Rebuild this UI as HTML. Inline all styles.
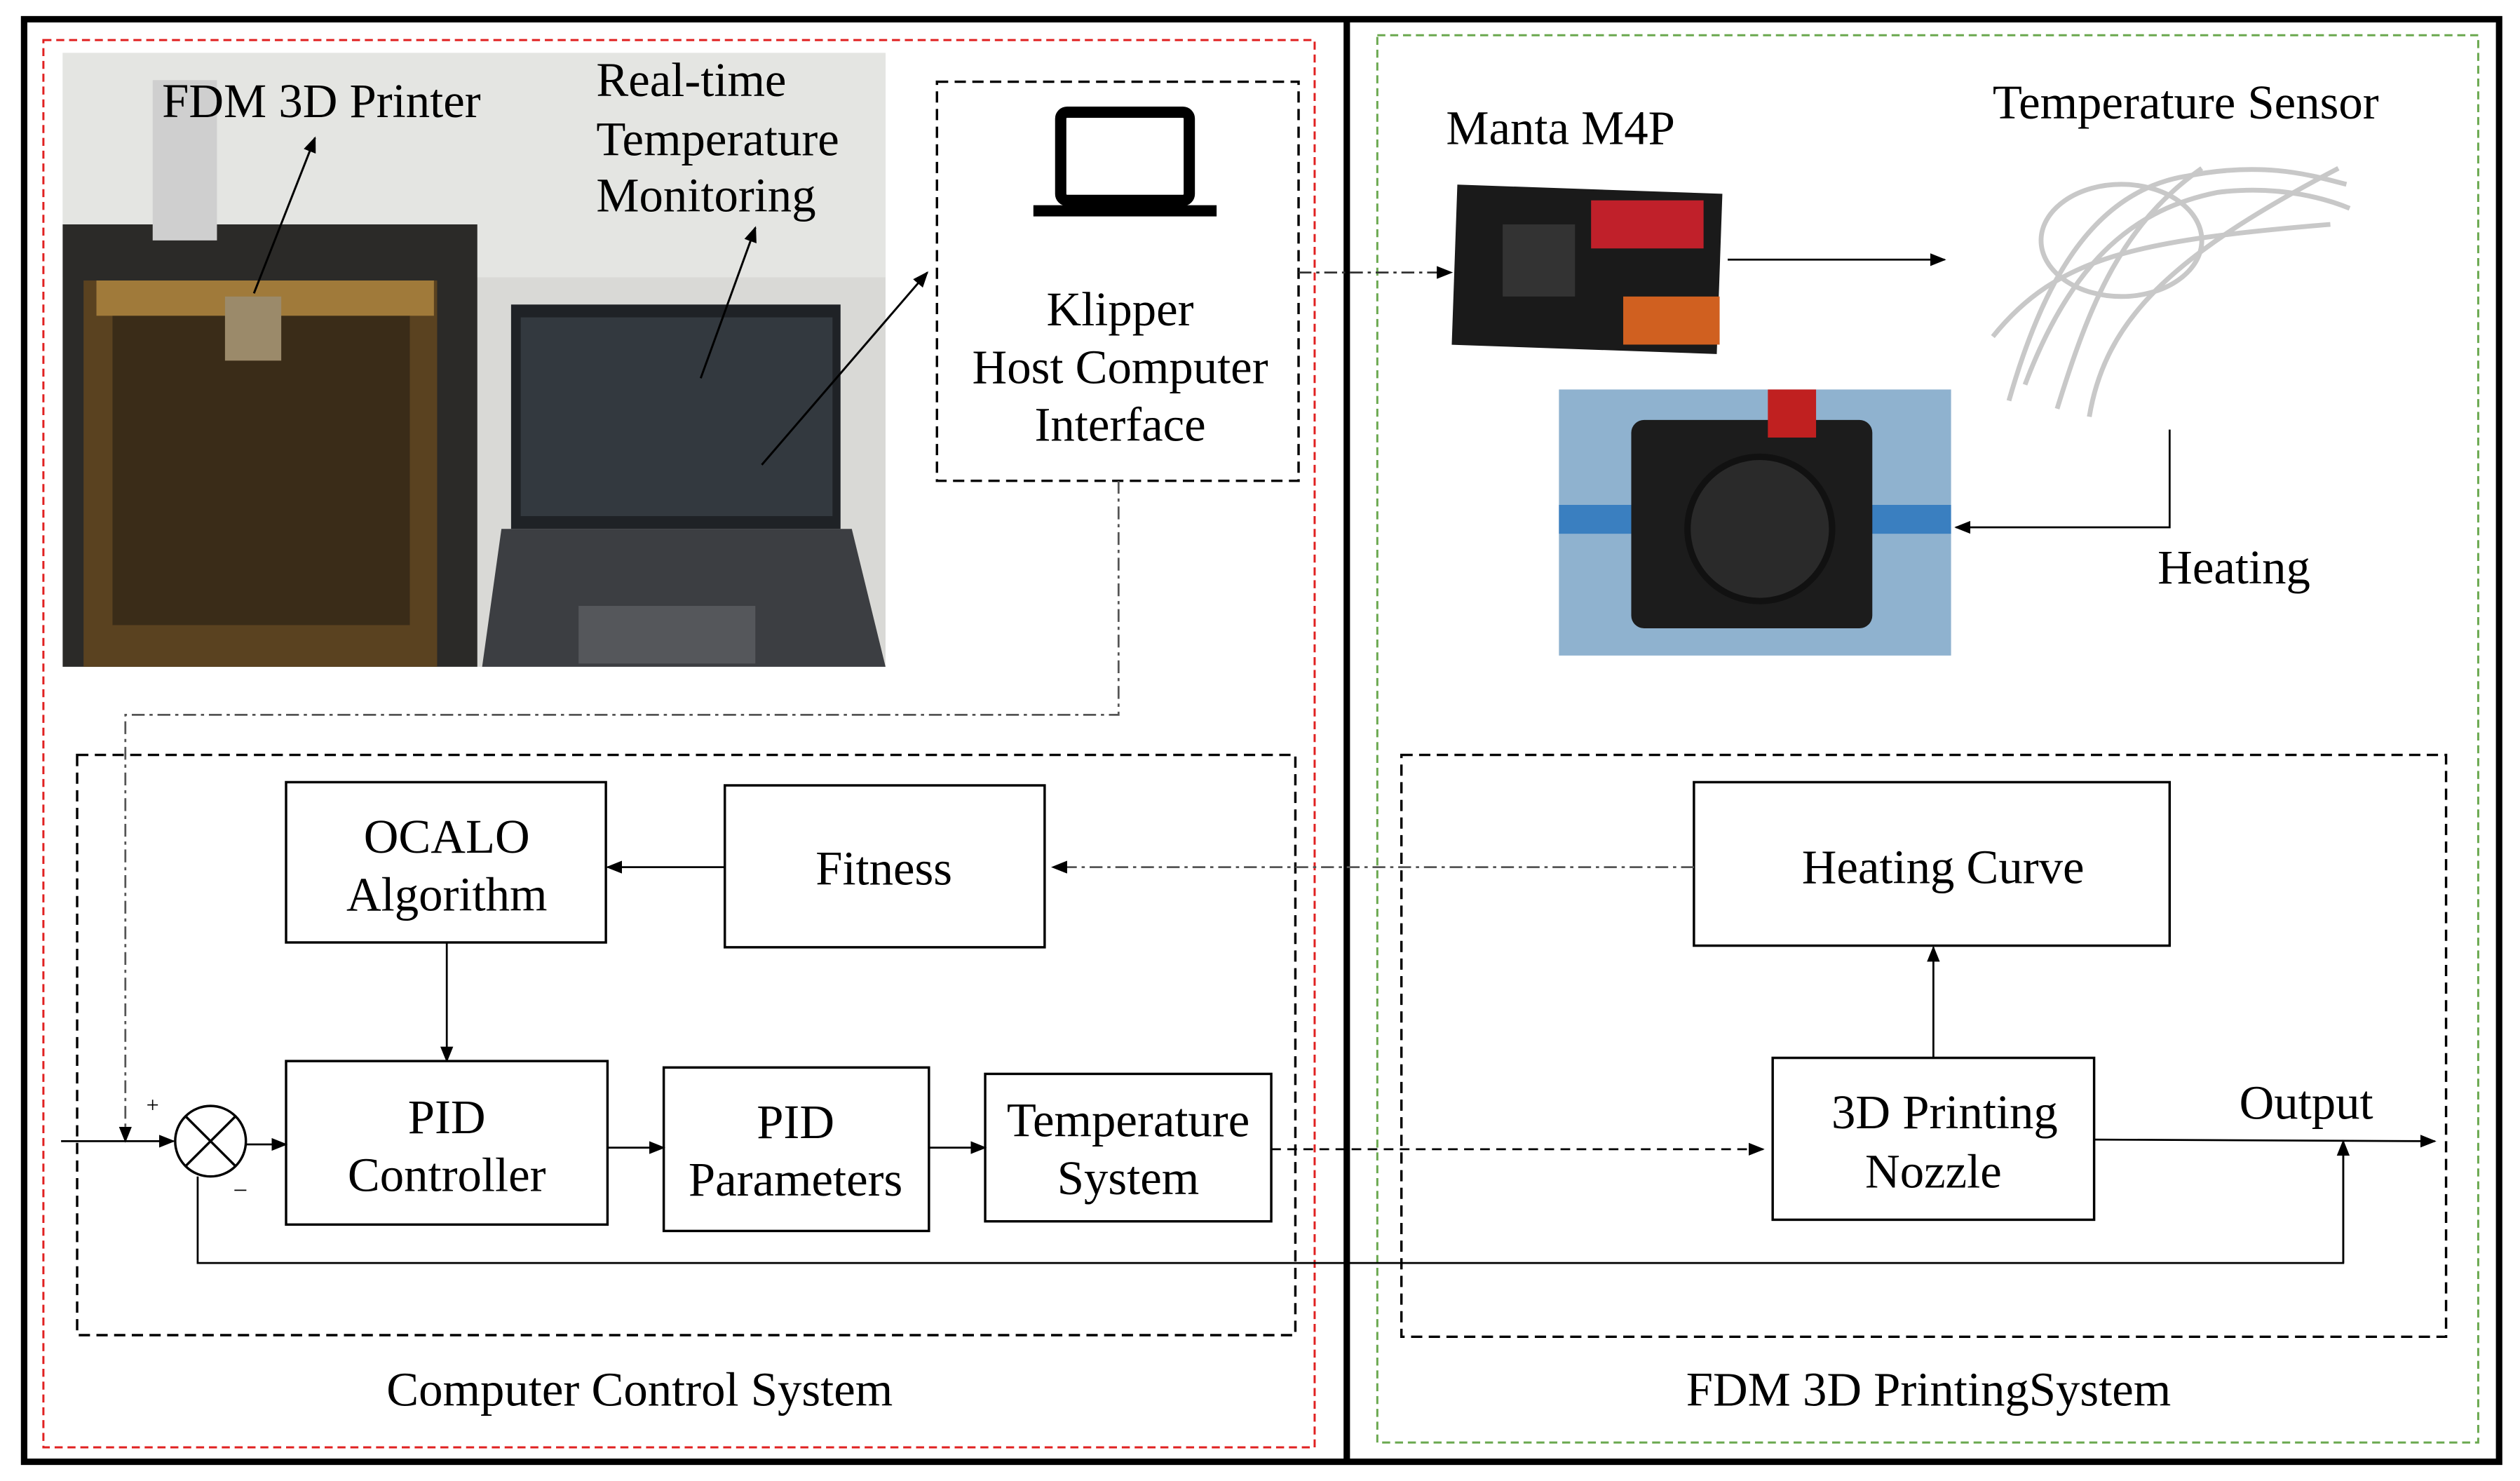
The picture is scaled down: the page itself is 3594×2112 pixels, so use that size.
<!DOCTYPE html>
<html><head><meta charset="utf-8"><style>
html,body{margin:0;padding:0;background:#fff;}
svg{display:block;}
text{font-family:"Liberation Serif",serif;fill:#000;}
</style></head><body>
<svg width="3594" height="2112" viewBox="0 0 1568 924" preserveAspectRatio="none" xmlns="http://www.w3.org/2000/svg">
<defs>
<marker id="a" markerWidth="10" markerHeight="8" refX="9" refY="4" orient="auto" markerUnits="userSpaceOnUse"><path d="M0,0 L10,4 L0,8 Z" fill="#000"/></marker>
</defs>
<rect x="0" y="0" width="1568" height="924" fill="#fff"/>
<rect x="15" y="12" width="1540" height="900" fill="none" stroke="#000" stroke-width="4"/>
<line x1="838" y1="12" x2="838" y2="912" stroke="#000" stroke-width="4"/>
<rect x="27" y="25" width="791" height="878" fill="none" stroke="#e02020" stroke-width="1.3" stroke-dasharray="5,3"/>
<rect x="857" y="22" width="685" height="878" fill="none" stroke="#6aa84f" stroke-width="1.3" stroke-dasharray="5,3"/>

<rect x="39" y="33" width="512" height="383" fill="#d9d9d6"/>
<rect x="39" y="33" width="512" height="140" fill="#e4e5e2"/>
<rect x="39" y="140" width="258" height="276" fill="#2b2a28"/>
<rect x="52" y="175" width="220" height="241" fill="#5a4220"/>
<rect x="70" y="190" width="185" height="200" fill="#3a2c18"/>
<rect x="60" y="175" width="210" height="22" fill="#a07a3a"/>
<rect x="140" y="185" width="35" height="40" fill="#9b8a6a"/>
<rect x="95" y="50" width="40" height="100" fill="#cfcfcf"/>
<rect x="318" y="190" width="205" height="140" fill="#1f2226"/>
<rect x="324" y="198" width="194" height="124" fill="#33393f"/>
<polygon points="312,330 530,330 551,416 300,416" fill="#3c3e42"/>
<rect x="360" y="378" width="110" height="36" fill="#55575b"/>

<text x="200" y="73" font-size="30" text-anchor="middle">FDM 3D Printer</text>
<text x="371" y="60" font-size="30">Real-time</text>
<text x="371" y="97" font-size="30">Temperature</text>
<text x="371" y="132" font-size="30">Monitoring</text>
<line x1="158" y1="183" x2="196" y2="86" stroke="#000" stroke-width="1.3" marker-end="url(#a)"/>
<line x1="436" y1="236" x2="470" y2="142" stroke="#000" stroke-width="1.3" marker-end="url(#a)"/>
<line x1="474" y1="290" x2="577" y2="170" stroke="#000" stroke-width="1.3" marker-end="url(#a)"/>

<rect x="583" y="51" width="225" height="249" fill="#fff" stroke="#000" stroke-width="1.5" stroke-dasharray="7,4"/>
<rect x="660" y="70" width="80" height="55" rx="4" fill="none" stroke="#000" stroke-width="7"/>
<path d="M643,128 L757,128 L757,135 L643,135 Z" fill="#000"/>
<text x="697" y="203" font-size="30" text-anchor="middle">Klipper</text>
<text x="697" y="239" font-size="30" text-anchor="middle">Host Computer</text>
<text x="697" y="275" font-size="30" text-anchor="middle">Interface</text>

<polyline points="696,300 696,446 78,446 78,712" fill="none" stroke="#555" stroke-width="1.2" stroke-dasharray="8,3,2,3" marker-end="url(#a)"/>
<line x1="808" y1="170" x2="903" y2="170" stroke="#333" stroke-width="1.2" stroke-dasharray="8,3,2,3" marker-end="url(#a)"/>

<rect x="48" y="471" width="758" height="362" fill="none" stroke="#000" stroke-width="1.5" stroke-dasharray="7,4"/>
<rect x="178" y="488" width="199" height="100" fill="#fff" stroke="#000" stroke-width="1.5"/>
<text x="278" y="532" font-size="30" text-anchor="middle">OCALO</text>
<text x="278" y="568" font-size="30" text-anchor="middle">Algorithm</text>
<rect x="451" y="490" width="199" height="101" fill="#fff" stroke="#000" stroke-width="1.5"/>
<text x="550" y="552" font-size="30" text-anchor="middle">Fitness</text>
<line x1="451" y1="541" x2="378" y2="541" stroke="#000" stroke-width="1.2" marker-end="url(#a)"/>
<line x1="278" y1="588" x2="278" y2="662" stroke="#000" stroke-width="1.2" marker-end="url(#a)"/>
<rect x="178" y="662" width="200" height="102" fill="#fff" stroke="#000" stroke-width="1.5"/>
<text x="278" y="707" font-size="30" text-anchor="middle">PID</text>
<text x="278" y="743" font-size="30" text-anchor="middle">Controller</text>
<rect x="413" y="666" width="165" height="102" fill="#fff" stroke="#000" stroke-width="1.5"/>
<text x="495" y="710" font-size="30" text-anchor="middle">PID</text>
<text x="495" y="746" font-size="30" text-anchor="middle">Parameters</text>
<rect x="613" y="670" width="178" height="92" fill="#fff" stroke="#000" stroke-width="1.5"/>
<text x="702" y="709" font-size="30" text-anchor="middle">Temperature</text>
<text x="702" y="745" font-size="30" text-anchor="middle">System</text>
<circle cx="131" cy="712" r="22" fill="#fff" stroke="#000" stroke-width="1.5"/>
<line x1="115.5" y1="696.5" x2="146.5" y2="727.5" stroke="#000" stroke-width="1.5"/>
<line x1="146.5" y1="696.5" x2="115.5" y2="727.5" stroke="#000" stroke-width="1.5"/>
<line x1="38" y1="712" x2="108" y2="712" stroke="#000" stroke-width="1.2" marker-end="url(#a)"/>
<line x1="153" y1="714" x2="178" y2="714" stroke="#000" stroke-width="1.2" marker-end="url(#a)"/>
<line x1="378" y1="716" x2="413" y2="716" stroke="#000" stroke-width="1.2" marker-end="url(#a)"/>
<line x1="578" y1="716" x2="613" y2="716" stroke="#000" stroke-width="1.2" marker-end="url(#a)"/>
<text x="91" y="694" font-size="14">+</text>
<text x="145" y="748" font-size="16">−</text>
<line x1="791" y1="717" x2="1097" y2="717" stroke="#000" stroke-width="1.2" stroke-dasharray="6,4" marker-end="url(#a)"/>
<polyline points="1458,712 1458,788 123,788 123,734" fill="none" stroke="#000" stroke-width="1.2"/>
<line x1="1458" y1="788" x2="1458" y2="712" stroke="#000" stroke-width="1.2" marker-end="url(#a)"/>

<text x="398" y="877" font-size="30" text-anchor="middle">Computer Control System</text>

<rect x="905" y="118" width="165" height="100" fill="#1a1a1a" transform="rotate(2 987 168)"/>
<rect x="990" y="125" width="70" height="30" fill="#c0202a"/>
<rect x="1010" y="185" width="60" height="30" fill="#d06020"/>
<rect x="935" y="140" width="45" height="45" fill="#333"/>
<line x1="1075" y1="162" x2="1210" y2="162" stroke="#000" stroke-width="1.2" marker-end="url(#a)"/>
<g stroke="#c8c8c8" stroke-width="3" fill="none">
<path d="M1250,250 C1270,180 1300,120 1360,110 C1410,100 1440,110 1460,115"/>
<path d="M1260,240 C1290,160 1330,130 1380,120 C1420,115 1450,125 1462,130"/>
<path d="M1280,255 C1300,190 1320,140 1370,105"/>
<path d="M1240,210 C1280,160 1330,150 1450,140"/>
<path d="M1300,260 C1310,200 1350,160 1455,105"/>
<ellipse cx="1320" cy="150" rx="50" ry="35"/>
</g>
<rect x="970" y="243" width="244" height="166" fill="#8fb2cf"/>
<rect x="970" y="315" width="244" height="18" fill="#3a7fc0"/>
<rect x="1015" y="262" width="150" height="130" rx="8" fill="#1c1c1c"/>
<circle cx="1095" cy="330" r="45" fill="#2a2a2a" stroke="#111" stroke-width="4"/>
<rect x="1100" y="243" width="30" height="30" fill="#c02020"/>
<polyline points="1350,268 1350,329 1217,329" fill="none" stroke="#000" stroke-width="1.2" marker-end="url(#a)"/>
<text x="971" y="90" font-size="30" text-anchor="middle">Manta M4P</text>
<text x="1360" y="74" font-size="30" text-anchor="middle">Temperature Sensor</text>
<text x="1390" y="364" font-size="30" text-anchor="middle">Heating</text>

<rect x="872" y="471" width="650" height="363" fill="none" stroke="#000" stroke-width="1.5" stroke-dasharray="7,4"/>
<rect x="1054" y="488" width="296" height="102" fill="#fff" stroke="#000" stroke-width="1.5"/>
<text x="1209" y="551" font-size="30" text-anchor="middle">Heating Curve</text>
<line x1="1054" y1="541" x2="655" y2="541" stroke="#555" stroke-width="1.2" stroke-dasharray="8,3,2,3" marker-end="url(#a)"/>
<rect x="1103" y="660" width="200" height="101" fill="#fff" stroke="#000" stroke-width="1.5"/>
<text x="1210" y="704" font-size="30" text-anchor="middle">3D Printing</text>
<text x="1203" y="741" font-size="30" text-anchor="middle">Nozzle</text>
<line x1="1203" y1="660" x2="1203" y2="591" stroke="#000" stroke-width="1.2" marker-end="url(#a)"/>
<line x1="1303" y1="711" x2="1515" y2="712" stroke="#000" stroke-width="1.2" marker-end="url(#a)"/>
<text x="1435" y="698" font-size="30" text-anchor="middle">Output</text>
<text x="1200" y="877" font-size="30" text-anchor="middle">FDM 3D PrintingSystem</text>
</svg>
</body></html>
